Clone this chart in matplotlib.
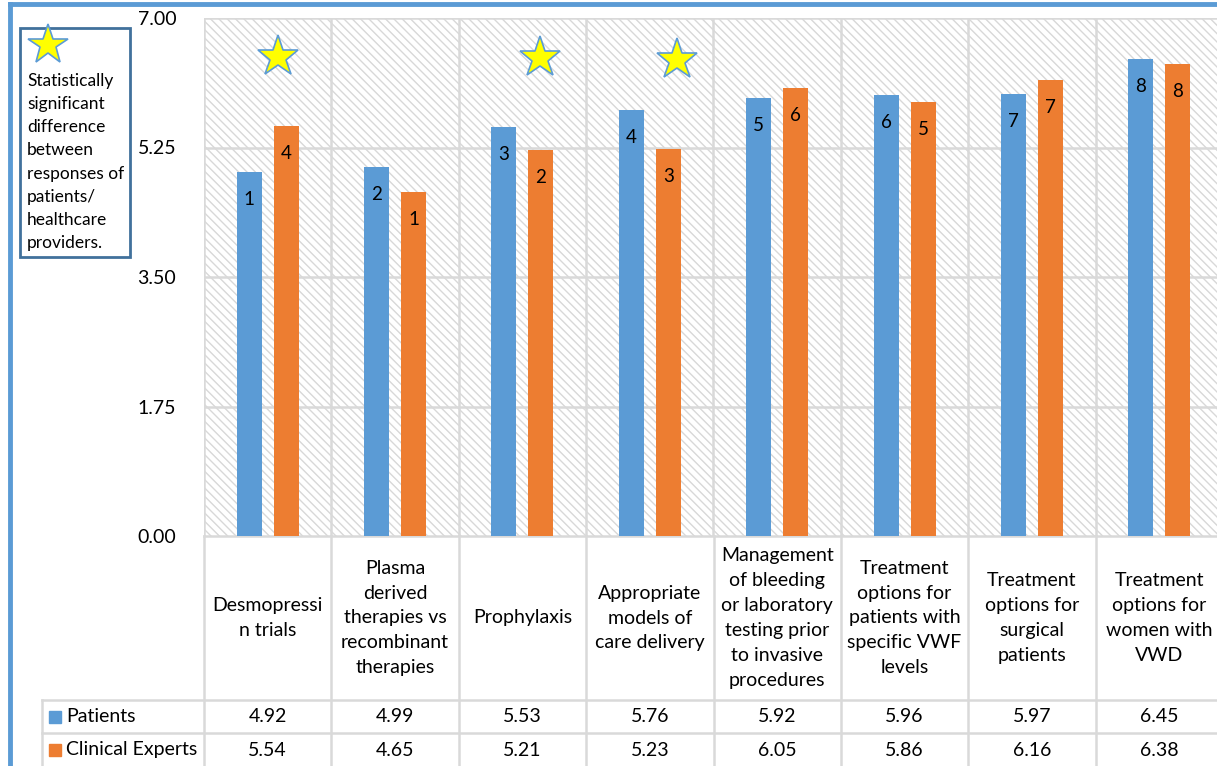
import numpy as np
import matplotlib
matplotlib.use("Agg")
import matplotlib.pyplot as plt
from matplotlib.patches import Rectangle
from matplotlib.lines import Line2D

plt.rcParams['font.family'] = ['Lato', 'DejaVu Sans']
plt.rcParams['hatch.linewidth'] = 1.0

categories = [
    "Desmopressi\nn trials",
    "Plasma\nderived\ntherapies vs\nrecombinant\ntherapies",
    "Prophylaxis",
    "Appropriate\nmodels of\ncare delivery",
    "Management\nof bleeding\nor laboratory\ntesting prior\nto invasive\nprocedures",
    "Treatment\noptions for\npatients with\nspecific VWF\nlevels",
    "Treatment\noptions for\nsurgical\npatients",
    "Treatment\noptions for\nwomen with\nVWD",
]
patients = [4.92, 4.99, 5.53, 5.76, 5.92, 5.96, 5.97, 6.45]
experts = [5.54, 4.65, 5.21, 5.23, 6.05, 5.86, 6.16, 6.38]
patient_rank = [1, 2, 3, 4, 5, 6, 7, 8]
expert_rank = [4, 1, 2, 3, 6, 5, 7, 8]
series_names = ["Patients", "Clinical Experts"]
yticks = [0.00, 1.75, 3.50, 5.25, 7.00]
# stars: category index, offset within category, height
star_cats = [0, 2, 3]
star_offsets = [0.08, 0.14, 0.21]
star_heights = [6.47, 6.46, 6.43]
legend_note = "Statistically\nsignificant\ndifference\nbetween\nresponses of\npatients/\nhealthcare\nproviders."

BLUE = '#5B9BD5'
ORANGE = '#ED7D31'
GRID = '#D9D9D9'
FS = 14

W, H = 1217, 766
fig = plt.figure(figsize=(W / 100, H / 100), dpi=100)


def fx(px):
    return px / W


def fy(py):
    return 1 - py / H


left_px, right_px, top_px, base_px = 204, 1223, 18, 536
cat_w = (right_px - left_px) / 8.0

ax = fig.add_axes([fx(left_px), fy(base_px), fx(right_px) - fx(left_px), fy(top_px) - fy(base_px)])
ax.set_xlim(-0.5, 7.5)
ax.set_ylim(0, 7)
ax.add_patch(Rectangle((0, 0), 1, 1, transform=ax.transAxes, facecolor='white',
                       edgecolor='#D8D8D8', hatch='\\' * 4, lw=0, zorder=0))
for y in yticks[1:]:
    ax.axhline(y, color=GRID, lw=1.8, zorder=1)
for b in np.arange(-0.5, 8.0, 1.0):
    ax.axvline(b, color=GRID, lw=1.8, zorder=1)

x = np.arange(len(categories))
ax.bar(x - 0.145, patients, width=0.196, color=BLUE, zorder=3)
ax.bar(x + 0.145, experts, width=0.196, color=ORANGE, zorder=3)
for i in range(len(x)):
    ax.text(x[i] - 0.145, patients[i] - 0.37, str(patient_rank[i]), ha='center', va='center',
            fontsize=13.5, color='black', zorder=4)
    ax.text(x[i] + 0.145, experts[i] - 0.37, str(expert_rank[i]), ha='center', va='center',
            fontsize=13.5, color='black', zorder=4)

for c, off, h in zip(star_cats, star_offsets, star_heights):
    ax.plot(c + off, h, marker='*', markersize=31, markerfacecolor='#FFFF00',
            markeredgecolor=BLUE, markeredgewidth=1.2, zorder=5)

ax.set_yticks(yticks)
ax.set_yticklabels([f"{v:.2f}" for v in yticks], fontsize=FS)
ax.tick_params(axis='y', length=0, pad=20)
ax.set_xticks([])
for s in ['left', 'right', 'top']:
    ax.spines[s].set_visible(False)
ax.spines['bottom'].set_color(GRID)
ax.spines['bottom'].set_linewidth(1.8)

# data table below the plot
tab_left_px = 42
tab = fig.add_axes([fx(tab_left_px), 0, fx(right_px) - fx(tab_left_px), fy(base_px)])
xl = -0.5 - (left_px - tab_left_px) / cat_w
tab.set_xlim(xl, 7.5)
tab.set_ylim(H, base_px)
tab.axis('off')


def px2x(px):
    return -0.5 + (px - left_px) / cat_w


for b in np.arange(-0.5, 8.0, 1.0):
    tab.plot([b, b], [base_px, H], color=GRID, lw=1.8, clip_on=False)
tab.plot([xl, xl], [700, H], color=GRID, lw=1.8, clip_on=False)
for yy in [700, 733]:
    tab.plot([xl, 7.5], [yy, yy], color=GRID, lw=1.8, clip_on=False)

for i, lab in enumerate(categories):
    tab.text(i, 618, lab, ha='center', va='center', fontsize=FS, linespacing=1.56)

row_y = [716.5, 750]
for name, vals, col, yy in zip(series_names, [patients, experts], [BLUE, ORANGE], row_y):
    tab.plot(px2x(55), yy, marker='s', markersize=8, color=col, clip_on=False)
    tab.text(px2x(66), yy, name, ha='left', va='center', fontsize=FS)
    for i, v in enumerate(vals):
        tab.text(i, yy, f"{v:.2f}", ha='center', va='center', fontsize=FS)

# note box with star
fig.patches.append(Rectangle((fx(20), fy(257)), fx(130) - fx(20), fy(28) - fy(257),
                             transform=fig.transFigure, facecolor='white',
                             edgecolor='#41719C', lw=2, zorder=2))
fig.lines.append(Line2D([fx(48)], [fy(45)], transform=fig.transFigure, marker='*',
                        markersize=30, markerfacecolor='#FFFF00', markeredgecolor=BLUE,
                        markeredgewidth=1.2, zorder=3))
fig.text(fx(27), fy(73), legend_note, ha='left', va='top', fontsize=12.5, linespacing=1.55)

# blue frame around the chart
fig.lines.append(Line2D([fx(10), 1.0], [fy(4), fy(4)], transform=fig.transFigure,
                        color=BLUE, lw=3.5))
fig.lines.append(Line2D([fx(10), fx(10)], [fy(4), 0], transform=fig.transFigure,
                        color=BLUE, lw=3.5))

fig.savefig('out.png', dpi=100)
